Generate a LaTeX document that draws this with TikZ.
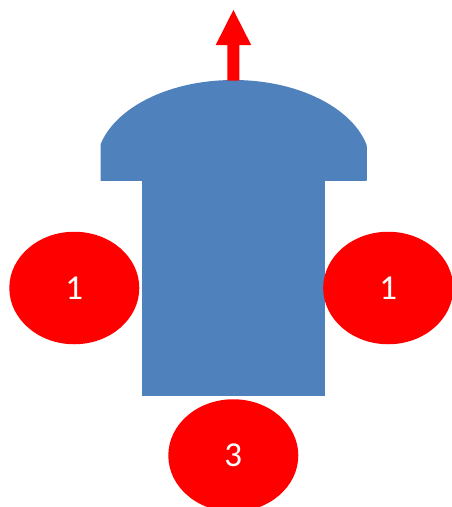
\documentclass[tikz,border=0pt]{standalone}
\usepackage{fontspec}
\setmainfont{Carlito}
\usetikzlibrary{shapes.geometric}
\definecolor{bodyblue}{HTML}{4F81BD}
\definecolor{ballred}{HTML}{FF0000}
\tikzset{
  ball/.style={ellipse, fill=ballred, draw=none, inner sep=0pt,
    minimum width=130pt, minimum height=112.5pt, text=white,
    font=\fontsize{35}{40}\selectfont},
  bodypart/.style={fill=bodyblue, draw=none}
}
\begin{document}
\begin{tikzpicture}[x=1pt,y=-1pt]
\useasboundingbox (0,0) rectangle (452,507);
% dome cap
\begin{scope}
  \clip (100.7,80) rectangle (366.7,180);
  \fill[bodypart] (233.5,165) ellipse [x radius=137, y radius=85];
\end{scope}
\fill[bodypart] (100.7,145.5) rectangle (366.7,180);
% stem
\fill[bodypart] (142.3,179.5) rectangle (325,396);
% arrow
\fill[ballred] (227.3,80.5) -- (227.3,45) -- (215.7,45) -- (233.4,10) -- (251.2,45) -- (239.4,45) -- (239.4,80.5) -- cycle;
% balls
\node[ball] (left) at (74.3,288) {1};
\node[ball] (right) at (388.2,288) {1};
\node[ball] (bottom) at (233.3,455.5) {3};
\end{tikzpicture}
\end{document}
